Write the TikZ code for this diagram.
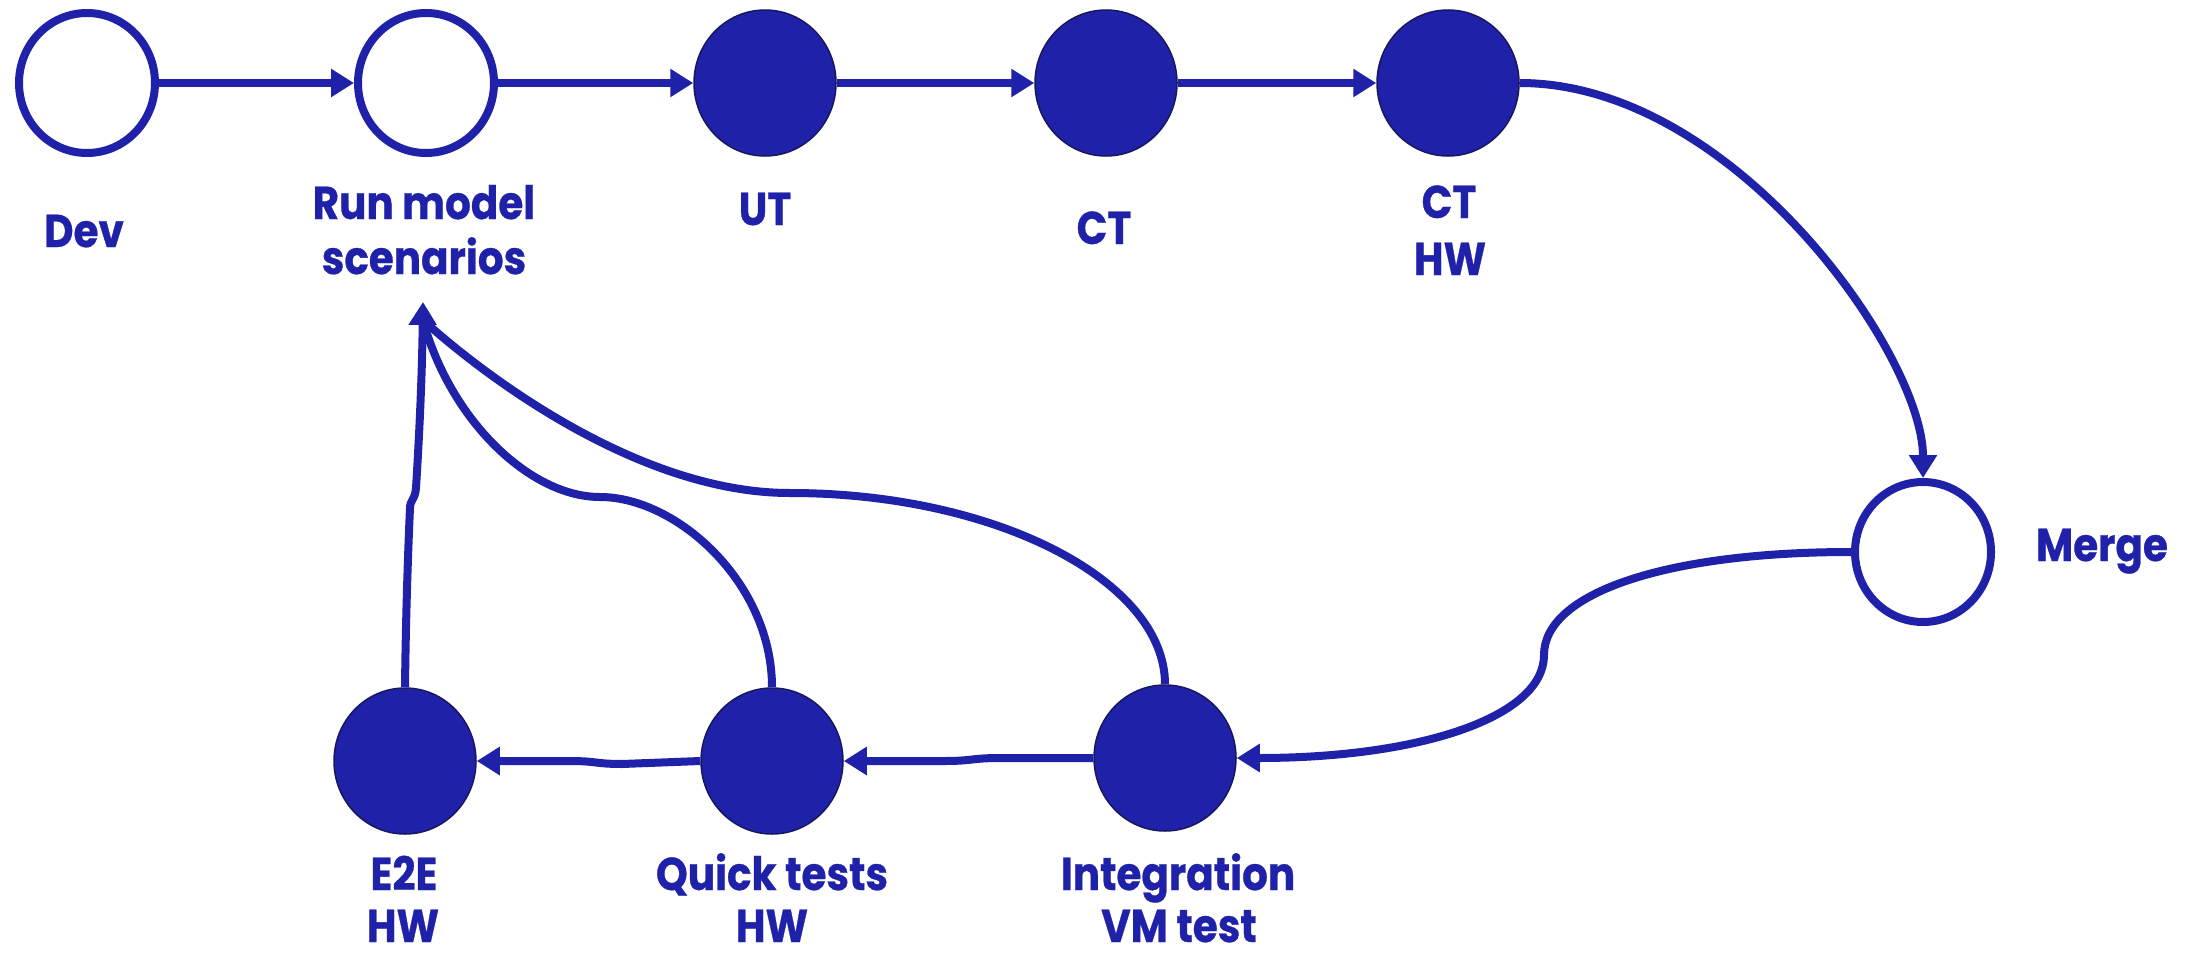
\documentclass[tikz,border=0pt]{standalone}
\usepackage{fontspec}
\setmainfont{Poppins}[FakeStretch=0.88,BoldFeatures={FakeBold=0.6}]
\usetikzlibrary{shapes.geometric,arrows.meta}
\definecolor{ink}{HTML}{1F22A9}
\definecolor{rim}{HTML}{17175E}

\begin{document}
\begin{tikzpicture}[x=1pt,y=-1pt,
  open/.style={ellipse, draw=ink, line width=8pt, fill=white,
    minimum width=136pt, minimum height=140pt, inner sep=0pt},
  solid/.style={ellipse, draw=rim, line width=1.5pt, fill=ink,
    minimum width=142pt, minimum height=146pt, inner sep=0pt},
  lbl/.style={text=ink, font=\fontsize{46}{52}\selectfont\bfseries,
    inner sep=0pt, anchor=base},
  link/.style={draw=ink, line width=8pt},
  arr/.style={link, -{Triangle[length=23pt,width=27pt]}}]
\useasboundingbox (0,0) rectangle (2190,953);

% top row
\node[open]  (dev)  at (87,83)   {};
\node[open]  (run)  at (426,83)  {};
\node[solid] (ut)   at (765,83)  {};
\node[solid] (ct)   at (1106,83) {};
\node[solid] (cthw) at (1448,83) {};
% merge node on the right
\node[open]  (merge) at (1923,552) {};
% bottom row
\node[solid] (integ) at (1165,758) {};
\node[solid] (quick) at (772,761)  {};
\node[solid] (e2e)   at (405,761)  {};

% labels
\node[lbl] (ldev)   at (84,247)   {Dev};
\node[lbl] (lrun1)  at (424,219)  {Run model};
\node[lbl] (lrun2)  at (424,274)  {scenarios};
\node[lbl] (lut)    at (765,225)  {UT};
\node[lbl] (lct)    at (1104,244) {CT};
\node[lbl] (lcthw1) at (1449,218) {CT};
\node[lbl] (lcthw2) at (1450,275) {HW};
\node[lbl] (lmerge) at (2102,561) {Merge};
\node[lbl] (linteg1) at (1178,890) {Integration};
\node[lbl] (linteg2) at (1179,942) {VM test};
\node[lbl] (lquick1) at (772,890) {Quick tests};
\node[lbl] (lquick2) at (772,942) {HW};
\node[lbl] (le2e1)  at (404,890)  {E2E};
\node[lbl] (le2e2)  at (403,942)  {HW};

% forward chain
\draw[arr] (dev) -- (run);
\draw[arr] (run) -- (ut);
\draw[arr] (ut) -- (ct);
\draw[arr] (ct) -- (cthw);
\draw[arr] (cthw.east) .. controls (1733,83) and (1923,355) .. (merge.north);

% merge down to integration
\coordinate (mbend) at (1544,655);
\draw[arr] (merge.west) .. controls (1666,552) and (1544,593) .. (mbend)
  .. controls (1544,717) and (1420,758) .. (integ.east);

% bottom chain, right to left
\coordinate (ja) at (1000,758);
\coordinate (jb) at (945,761);
\draw[arr] (integ.west) -- (ja) .. controls (972,758) and (972,761) .. (jb) -- (quick.east);
\coordinate (jc) at (622,764);
\coordinate (jd) at (570,761);
\draw[arr] (quick.west) -- (jc) .. controls (596,764) and (596,761) .. (jd) -- (e2e.east);

% feedback into the run-model node
\coordinate (tip) at (423,302);
\coordinate (tipin) at (423,320);
\draw[link] (quick.north) .. controls (772,583) and (677,497) .. (600,497)
  .. controls (530,497) and (450,420) .. (tipin);
\draw[link] (integ.north) .. controls (1165,581) and (996,493) .. (790,493)
  .. controls (620,493) and (450,345) .. (tipin);
\draw[arr] (e2e.north) .. controls (406,600) and (409,530) .. (410,508)
  .. controls (410,500) and (415,500) .. (416,488)
  .. controls (419,440) and (422,380) .. (tip);
\end{tikzpicture}
\end{document}
